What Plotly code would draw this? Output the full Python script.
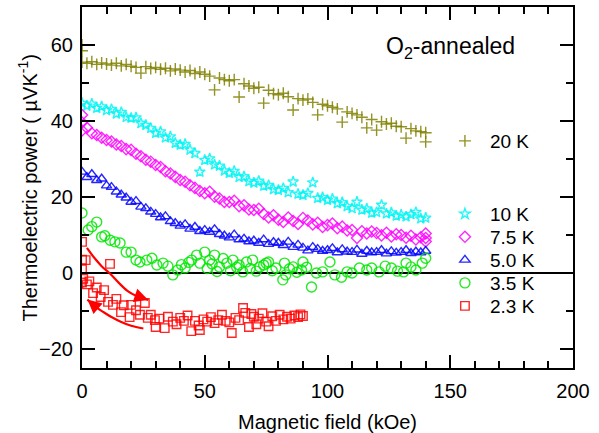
import plotly.graph_objects as go

# ---------------- data ----------------
T20_X = [0, 0, 0, 2, 4, 6, 8, 10, 12, 14, 16, 18, 20, 22, 24, 26, 28, 30, 32, 34, 36, 38, 40,
         42, 44, 46, 48, 50, 52, 54, 56, 58, 60, 62, 64, 66, 68, 70, 72, 74, 76, 78, 80, 82,
         84, 86, 88, 90, 92, 94, 96, 98, 100, 102, 104, 106, 108, 110, 112, 114, 116, 118,
         120, 122, 124, 126, 128, 130, 132, 134, 136, 138, 140, 140]
T20_Y = [55.5, 58.5, 60.0, 55.2, 55.6, 54.9, 55.3, 55.0, 54.7, 55.2, 54.5, 54.9, 54.4, 54.1,
         52.6, 54.3, 53.8, 54.1, 53.6, 53.9, 53.2, 53.7, 53.4, 52.9, 53.3, 52.5, 52.9, 52.3,
         51.8, 48.2, 51.3, 50.9, 50.6, 50.9, 46.3, 49.8, 49.2, 48.6, 48.9, 44.7, 48.1, 47.2,
         46.9, 47.3, 46.4, 42.9, 45.9, 45.5, 45.8, 44.9, 41.6, 44.4, 44.0, 43.6, 43.2, 39.7,
         42.4, 42.0, 41.6, 41.0, 38.2, 40.4, 37.6, 39.8, 39.2, 39.4, 38.6, 38.5, 35.5, 38.0,
         37.4, 37.2, 36.9, 34.5]

FIELD = [0, 2, 4, 6, 8, 10, 12, 14, 16, 18, 20, 22, 24, 26, 28, 30, 32, 34, 36, 38, 40, 42,
         44, 46, 48, 50, 52, 54, 56, 58, 60, 62, 64, 66, 68, 70, 72, 74, 76, 78, 80, 82, 84,
         86, 88, 90, 92, 94, 96, 98, 100, 102, 104, 106, 108, 110, 112, 114, 116, 118, 120,
         122, 124, 126, 128, 130, 132, 134, 136, 138, 140]

T10_Y = [44.7, 44.0, 44.5, 43.4, 43.8, 42.8, 43.1, 41.9, 42.3, 41.0, 40.8, 40.9, 39.4, 38.9,
         38.1, 36.8, 37.2, 35.6, 35.9, 34.2, 33.7, 33.9, 32.4, 31.5, 26.6, 29.7, 30.1, 28.5,
         28.2, 26.9, 26.3, 26.8, 25.2, 25.4, 24.1, 23.7, 24.2, 22.9, 23.1, 22.0, 21.8, 22.3,
         21.2, 24.0, 20.8, 20.5, 21.0, 23.8, 19.7, 19.9, 19.2, 19.5, 18.3, 18.6, 17.5, 17.0,
         18.7, 16.6, 16.9, 15.8, 16.0, 17.9, 15.6, 15.9, 15.0, 15.3, 14.8, 15.4, 16.0, 14.3,
         14.5]

T75_Y = [37.5, 38.2, 36.8, 36.3, 35.6, 35.0, 34.6, 33.8, 33.4, 32.6, 32.4, 31.4, 30.7, 29.8,
         29.3, 28.4, 27.9, 26.8, 26.2, 25.3, 24.5, 24.0, 23.1, 22.4, 21.6, 21.0, 21.4, 20.1,
         19.6, 18.7, 18.7, 19.0, 17.6, 17.8, 16.7, 16.6, 16.9, 15.5, 14.6, 15.2, 14.0, 13.4,
         14.6, 13.7, 12.9, 14.5, 13.8, 12.8, 13.2, 12.1, 12.6, 13.0, 11.8, 12.2, 11.2, 11.3,
         9.2, 11.0, 10.4, 10.9, 10.5, 9.9, 10.6, 9.6, 10.2, 10.0, 9.3, 9.8, 8.8, 9.4, 9.2]
T75_EXTRA_X = [0, 0, 140, 140]
T75_EXTRA_Y = [41.6, 39.6, 10.4, 8.3]

T50_Y = [26.6, 25.2, 26.0, 24.4, 24.8, 23.0, 22.6, 21.4, 20.6, 19.8, 18.7, 18.9, 17.4, 17.0,
         16.1, 15.5, 14.6, 14.9, 13.6, 13.1, 12.4, 12.8, 11.6, 12.1, 11.0, 11.3, 10.8, 11.5,
         10.2, 9.8, 9.3, 10.1, 8.8, 9.0, 8.3, 8.5, 7.9, 8.8, 7.6, 8.1, 7.9, 7.3, 8.2, 6.8,
         7.4, 6.6, 5.9, 6.8, 6.3, 5.8, 6.0, 6.5, 5.4, 6.2, 5.6, 5.5, 6.1, 5.0, 5.8, 5.4, 5.5,
         6.0, 5.1, 5.7, 5.3, 5.5, 6.0, 5.2, 5.6, 5.4, 5.8]

T35_X = [0, 2.5, 4, 6, 8, 9.3, 11.5, 13.4, 15.5, 18, 20, 22, 23.6, 26.4, 28.5, 30.5, 33, 35,
         37, 39, 40.5, 42, 43.5, 44.7, 46.7, 48, 50, 51, 52, 53, 54, 55, 56, 57.5, 59, 60.5,
         61.5, 63, 64, 65.5, 67, 68.5, 69.5, 71, 72.4, 74, 75, 76, 77.5, 79, 81.8, 82.5, 83,
         84.5, 86, 87.5, 89.4, 90, 91.5, 93.5, 95.5, 98, 101, 103, 105.7, 108, 110, 113, 116,
         118, 121, 123.5, 126, 128.5, 131, 132, 134, 136, 138.6, 140]
T35_Y = [15.8, 11.3, 12.2, 13.4, 9.5, 9.8, 8.6, 8.2, 7.9, 5.5, 5.5, 3.4, 2.9, 3.4, 3.9, 2.1,
         2.6, 1.8, -0.5, 0.8, 2.2, 1.3, 2.8, 3.4, 4.7, 2.6, 5.5, 1.2, 3.4, 2.4, 4.7, 0.4, 1.6,
         3.8, 2.6, 0.6, 3.4, 1.5, 2.1, 0.3, 2.9, 1.2, 3.4, 0.5, 1.6, 2.1, 2.6, 2.9, 0.6, 1.3,
         -1.8, 2.6, -0.5, 1.1, 1.6, 0.2, 0.8, 2.9, 1.5, -3.7, 0.0, 0.3, 2.9, -0.5, -1.1, 0.3,
         0.0, 1.3, 0.8, 1.3, 0.3, 1.8, 1.3, 0.5, 0.3, 2.6, 1.6, 0.8, 2.6, 3.9]

T23_X = [0, 0, 0, 0, 1.5, 11.4, 0.5, 2, 4.5, 3, 6, 7.6, 9, 10.6, 12.6, 14, 15.9, 17, 19.4, 20,
         22, 23.6, 25.6, 26.8, 28, 29.7, 30, 31.5, 33.7, 35, 37, 38.5, 40, 41.5, 43, 44.5, 46,
         47.5, 48, 49.5, 51, 52.5, 54, 55.5, 57, 58.5, 60, 61, 62.5, 64, 65.6, 66.5, 68, 69,
         70, 71, 72, 73.5, 75, 76, 77.5, 79, 80.5, 82, 83.5, 85, 86.5, 88, 89, 90]
T23_Y = [8.2, 3.5, 1.0, -2.5, 3.4, 2.4, -1.5, -3.0, -5.3, -2.2, -3.8, -6.3, -4.5, -7.6, -8.4,
         -6.8, -10.3, -8.5, -11.6, -8.4, -9.8, -11.0, -7.9, -11.8, -11.0, -12.4, -14.2, -12.0,
         -14.5, -11.5, -12.8, -13.5, -11.8, -12.6, -11.2, -15.3, -12.6, -13.8, -15.0, -12.2,
         -12.8, -11.6, -13.2, -12.4, -11.0, -12.6, -13.0, -15.8, -11.8, -12.4, -9.2, -10.5,
         -14.2, -10.8, -11.5, -13.5, -12.0, -10.6, -12.8, -14.0, -11.4, -12.6, -11.0, -12.2,
         -11.5, -12.0, -11.2, -11.6, -10.9, -11.3]

# hysteresis arrows (field up / field down)
ARROW_UP_X = [2, 5, 8, 11.5, 15, 18.5, 22, 27]
ARROW_UP_Y = [6.6, 4.0, 1.8, -0.2, -2.6, -4.7, -6.0, -7.1]
ARROW_DN_X = [25, 20, 16, 12, 9, 6, 2.2]
ARROW_DN_Y = [-14.6, -13.9, -12.9, -11.6, -10.4, -9.1, -7.0]

X_TICKS = [0, 50, 100, 150, 200]
Y_TICKS = [-20, 0, 20, 40, 60]

# ---------------- figure ----------------
FONT = "Liberation Sans, Arial, sans-serif"
fig = go.Figure()

# each legend entry gets its own legend box, placed where the reference shows it
LEGEND_Y_PX = {"legend": 141, "legend2": 214, "legend3": 237, "legend4": 260,
               "legend5": 283, "legend6": 306}


def add_series(x, y, name, symbol, color, size, legend, showlegend=True):
    fig.add_trace(go.Scatter(
        x=x, y=y, mode="markers", name=name,
        legend=legend, showlegend=showlegend, legendgroup=name,
        marker=dict(symbol=symbol, size=size, color=color, opacity=0.85,
                    line=dict(color=color, width=1.4)),
    ))


add_series(T20_X, T20_Y, "20 K", "cross-thin", "#808000", 8.5, "legend")
add_series(FIELD, T10_Y, "10 K", "star-open", "#00F4F4", 8, "legend2")
add_series(FIELD, T75_Y, "7.5 K", "diamond-open", "#FF00FF", 8.5, "legend3")
add_series(T75_EXTRA_X, T75_EXTRA_Y, "7.5 K", "diamond-open", "#FF00FF", 8.5, "legend3",
           showlegend=False)
add_series(FIELD, T50_Y, "5.0 K", "triangle-up-open", "#0000FF", 9, "legend4")
add_series(T35_X, T35_Y, "3.5 K", "circle-open", "#00E600", 10, "legend5")
add_series(T23_X, T23_Y, "2.3 K", "square-open", "#FF0000", 8.5, "legend6")

# arrow bodies (curves) and heads (annotation arrows along the last segment)
for ax_, ay_ in ((ARROW_UP_X, ARROW_UP_Y), (ARROW_DN_X, ARROW_DN_Y)):
    fig.add_trace(go.Scatter(x=ax_, y=ay_, mode="lines", showlegend=False, hoverinfo="skip",
                             line=dict(color="#FF0000", width=2.2, shape="spline")))
    fig.add_annotation(x=ax_[-1], y=ay_[-1], ax=ax_[-2], ay=ay_[-2],
                       xref="x", yref="y", axref="x", ayref="y", text="",
                       showarrow=True, arrowhead=2, arrowsize=1.4, arrowwidth=2,
                       arrowcolor="#FF0000", standoff=0)

fig.add_annotation(x=0.75, y=0.889, xref="paper", yref="paper", xanchor="center",
                   yanchor="middle", text="O<sub>2</sub>-annealed", showarrow=False,
                   font=dict(family=FONT, size=23, color="black"))

# y-axis title placed as in the reference
fig.add_annotation(x=-0.110, y=0.5, xref="paper", yref="paper", xanchor="center",
                   yanchor="middle", textangle=-90, showarrow=False,
                   text="Thermoelectric power ( \u00b5VK<sup>-1</sup>)",
                   font=dict(family=FONT, size=20, color="black"))

axis_common = dict(
    showline=True, linecolor="black", linewidth=2, mirror="ticks",
    ticks="inside", ticklen=13, tickwidth=2, tickcolor="black",
    showgrid=False,
    tickfont=dict(family=FONT, size=20, color="black"),
    minor=dict(ticks="inside", ticklen=7, tickwidth=1.5, tickcolor="black", showgrid=False),
)

fig.update_xaxes(range=[0, 200], tickvals=X_TICKS, zeroline=False,
                 minor_dtick=10, minor_tick0=0, ticklabelstandoff=4,
                 title=dict(text="Magnetic field (kOe)", standoff=16,
                            font=dict(family=FONT, size=20, color="black")),
                 **axis_common)
fig.update_yaxes(range=[-25, 70], tickvals=Y_TICKS, zeroline=True, zerolinecolor="black",
                 zerolinewidth=2, minor_dtick=10, minor_tick0=0, ticklabelstandoff=3,
                 **axis_common)

legend_common = dict(bgcolor="rgba(0,0,0,0)", borderwidth=0, xanchor="left", yanchor="middle",
                     font=dict(family=FONT, size=19, color="black"), itemwidth=40,
                     tracegroupgap=0)
PLOT_TOP, PLOT_BOTTOM = 7, 368
legends = {}
for key, py in LEGEND_Y_PX.items():
    legends[key] = dict(x=0.729, y=(PLOT_BOTTOM - py) / (PLOT_BOTTOM - PLOT_TOP),
                        **legend_common)

fig.update_layout(
    width=599, height=433,
    margin=dict(l=82, r=26, t=7, b=65, autoexpand=False),
    paper_bgcolor="white", plot_bgcolor="white",
    **legends,
)

fig.write_html("out.html")
